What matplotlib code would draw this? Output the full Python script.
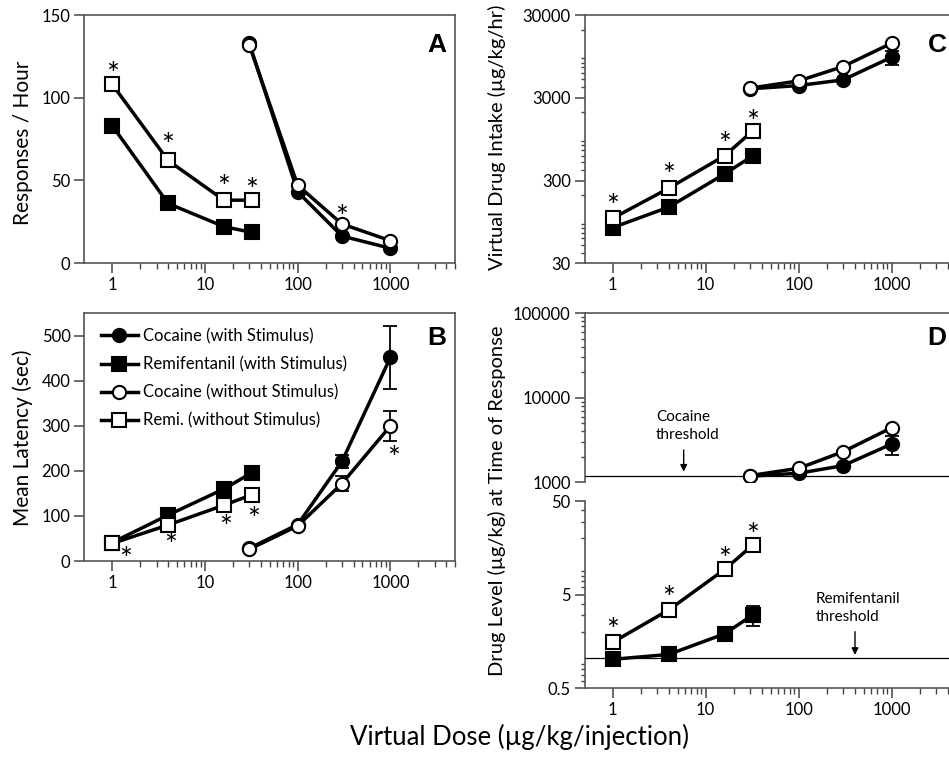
import matplotlib
matplotlib.use("Agg")
import matplotlib.pyplot as plt
from matplotlib.ticker import FixedLocator, FuncFormatter, NullFormatter

plt.rcParams["font.family"] = ["Lato", "DejaVu Sans"]

# doses (ug/kg/injection)
remi_dose = [1, 4, 16, 32]
coc_dose = [30, 100, 300, 1000]

# A: responses / hour
a_coc_stim = [133, 43, 16.3, 8.9]
a_coc_nostim = [132, 47, 23.6, 13.5]
a_remi_stim = [83, 36, 22, 18.5]
a_remi_nostim = [108, 62, 38, 38]

# B: mean latency (sec)
b_coc_stim = [28, 81, 221, 452]
b_coc_stim_err = [0, 0, 15, 70]
b_coc_nostim = [26, 78, 172, 300]
b_coc_nostim_err = [0, 0, 16, 33]
b_remi_stim = [41, 102, 160, 196]
b_remi_nostim = [39, 80, 124, 147]

# C: virtual drug intake (ug/kg/hr)
c_coc_stim = [3850, 4215, 4935, 9280]
c_coc_stim_err = [0, 0, 0, 1760]
c_coc_nostim = [3918, 4800, 7150, 13700]
c_remi_stim = [81, 143, 361, 595]
c_remi_nostim = [105, 242, 598, 1194]

# D: drug level at time of response (ug/kg)
d_coc_stim = [1180, 1280, 1575, 2840]
d_coc_stim_err = [0, 0, 0, 715]
d_coc_nostim = [1200, 1465, 2300, 4430]
d_remi_stim = [1.02, 1.15, 1.91, 3.03]
d_remi_stim_err = [0, 0, 0, 0.74]
d_remi_nostim = [1.55, 3.43, 9.3, 16.9]
coc_threshold = 1200
remi_threshold = 1.06

legend_labels = ["Cocaine (with Stimulus)", "Remifentanil (with Stimulus)",
                 "Cocaine (without Stimulus)", "Remi. (without Stimulus)"]

W, H = 949, 761
fig = plt.figure(figsize=(W / 100, H / 100), dpi=100)


def px_axes(left, top, right, bottom):
    return fig.add_axes([left / W, 1 - bottom / H, (right - left) / W, (bottom - top) / H])


ax_a = px_axes(84.4, 15, 455.2, 263)
ax_b = px_axes(84.4, 313.3, 455.2, 561)
ax_c = px_axes(584.7, 15, 956.7, 263.3)
ax_du = px_axes(584.7, 313.3, 956.7, 482.3)
ax_dl = px_axes(584.7, 501, 956.7, 688.3)

fmt = FuncFormatter(lambda v, p: f"{v:g}")
minor_x = [m * 10 ** e for e in range(4) for m in range(2, 10) if m * 10 ** e <= 5000]


def style(ax, yticks, ylim, logy=False):
    ax.set_xscale("log")
    if logy:
        ax.set_yscale("log")
    ax.set_xlim(0.5, 5000)
    ax.set_ylim(*ylim)
    ax.xaxis.set_major_locator(FixedLocator([1, 10, 100, 1000]))
    ax.xaxis.set_minor_locator(FixedLocator(minor_x))
    ax.xaxis.set_major_formatter(fmt)
    ax.xaxis.set_minor_formatter(NullFormatter())
    ax.yaxis.set_major_locator(FixedLocator(yticks))
    ax.yaxis.set_major_formatter(fmt)
    if not logy:
        ax.yaxis.set_minor_locator(FixedLocator([]))
    ax.yaxis.set_minor_formatter(NullFormatter())
    ax.tick_params(which="major", direction="out", length=7, width=1.1,
                   color="#444", labelsize=12, pad=3)
    ax.tick_params(which="minor", direction="out", length=4, width=1.0, color="#444")
    ax.tick_params(axis="y", which="minor", length=3)
    for s in ax.spines.values():
        s.set_color("#555")
        s.set_linewidth(1.2)


def series(ax, x, y, marker, filled, err=None, z=3):
    if err is not None:
        xs = [a for a, e in zip(x, err) if e > 0]
        ys = [b for b, e in zip(y, err) if e > 0]
        es = [e for e in err if e > 0]
        ax.errorbar(xs, ys, yerr=es, fmt="none", ecolor="k", elinewidth=1.3,
                    capsize=5, capthick=1.3, zorder=z - 0.5)
    line, = ax.plot(x, y, color="k", lw=2.5, marker=marker, ms=9.5,
                    mfc="k" if filled else "white", mec="k", mew=1.5, zorder=z)
    return line


def stars(ax, x, y, offsets):
    for xi, yi, (dx, dy) in zip(x, y, offsets):
        ax.annotate("*", xy=(xi, yi), xytext=(dx, dy - 6), textcoords="offset pixels",
                    ha="center", va="center", fontsize=22, zorder=6)


# panel A
style(ax_a, [0, 50, 100, 150], (0, 150))
series(ax_a, remi_dose, a_remi_stim, "s", True)
series(ax_a, coc_dose, a_coc_stim, "o", True)
series(ax_a, remi_dose, a_remi_nostim, "s", False, z=4)
series(ax_a, coc_dose, a_coc_nostim, "o", False, z=4)
stars(ax_a, remi_dose, a_remi_nostim, [(0, 15), (0, 20), (0, 18), (0, 15)])
stars(ax_a, coc_dose[2:3], a_coc_nostim[2:3], [(0, 12)])

# panel B
style(ax_b, [0, 100, 200, 300, 400, 500], (0, 550))
h1 = series(ax_b, coc_dose, b_coc_stim, "o", True, b_coc_stim_err)
h2 = series(ax_b, remi_dose, b_remi_stim, "s", True)
h3 = series(ax_b, coc_dose, b_coc_nostim, "o", False, b_coc_nostim_err, z=4)
h4 = series(ax_b, remi_dose, b_remi_nostim, "s", False, z=4)
stars(ax_b, remi_dose, b_remi_nostim, [(13, -11), (3, -15), (2, -17), (2, -19)])
stars(ax_b, coc_dose[3:], b_coc_nostim[3:], [(3, -27)])
ax_b.legend([h1, h2, h3, h4], legend_labels, loc="upper left",
            bbox_to_anchor=(0.045, 0.94), frameon=False, fontsize=12,
            handlelength=2.2, handletextpad=0.3, labelspacing=0.72,
            borderpad=0, borderaxespad=0)

# panel C
style(ax_c, [30, 300, 3000, 30000], (30, 30000), logy=True)
series(ax_c, remi_dose, c_remi_stim, "s", True)
series(ax_c, coc_dose, c_coc_stim, "o", True, c_coc_stim_err)
series(ax_c, remi_dose, c_remi_nostim, "s", False, z=4)
series(ax_c, coc_dose, c_coc_nostim, "o", False, z=4)
stars(ax_c, remi_dose, c_remi_nostim, [(0, 17), (0, 18), (0, 17), (0, 14)])

# panel D, upper (cocaine) part
style(ax_du, [1000, 10000, 100000], (1000, 100000), logy=True)
ax_du.spines["bottom"].set_visible(False)
ax_du.tick_params(axis="x", which="both", bottom=False, labelbottom=False)
ax_du.axhline(coc_threshold, color="k", lw=0.9, zorder=1)
series(ax_du, coc_dose, d_coc_stim, "o", True, d_coc_stim_err)
series(ax_du, coc_dose, d_coc_nostim, "o", False, z=4)
ax_du.text(2.92, 4640, "Cocaine\nthreshold", ha="left", va="center",
           fontsize=11, linespacing=1.3)
ax_du.annotate("", xy=(5.8, 1335), xytext=(5.8, 2413),
               arrowprops=dict(arrowstyle="-|>", color="k", lw=1,
                               mutation_scale=10, shrinkA=0, shrinkB=0))

# panel D, lower (remifentanil) part
style(ax_dl, [0.5, 5, 50], (0.5, 50), logy=True)
ax_dl.spines["top"].set_visible(False)
ax_dl.axhline(remi_threshold, color="k", lw=0.9, zorder=1)
series(ax_dl, remi_dose, d_remi_stim, "s", True, d_remi_stim_err)
series(ax_dl, remi_dose, d_remi_nostim, "s", False, z=4)
stars(ax_dl, remi_dose, d_remi_nostim, [(0, 17), (0, 17), (0, 15), (0, 15)])
ax_dl.text(153, 3.61, "Remifentanil\nthreshold", ha="left", va="center",
           fontsize=11, linespacing=1.3)
ax_dl.annotate("", xy=(403, 1.135), xytext=(403, 2.01),
               arrowprops=dict(arrowstyle="-|>", color="k", lw=1,
                               mutation_scale=10, shrinkA=0, shrinkB=0))

# panel letters
for ax, letter, xf, yf in [(ax_a, "A", 0.951, 0.879), (ax_b, "B", 0.951, 0.90),
                           (ax_c, "C", 0.947, 0.879), (ax_du, "D", 0.947, 0.854)]:
    ax.text(xf, yf, letter, transform=ax.transAxes, ha="center", va="center",
            fontsize=19, fontweight="bold", family="Liberation Sans")

# axis titles
fig.text(23 / W, 1 - 143 / H, "Responses / Hour", rotation=90, ha="center", va="center", fontsize=15)
fig.text(23 / W, 1 - 438 / H, "Mean Latency (sec)", rotation=90, ha="center", va="center", fontsize=15)
fig.text(497 / W, 1 - 137 / H, "Virtual Drug Intake (µg/kg/hr)", rotation=90,
         ha="center", va="center", fontsize=14.5)
fig.text(497 / W, 1 - 501 / H, "Drug Level (µg/kg) at Time of Response", rotation=90,
         ha="center", va="center", fontsize=14.5)
fig.text(520 / W, 1 - 737 / H, "Virtual Dose (µg/kg/injection)", ha="center", va="center",
         fontsize=18.5)

fig.savefig("out.png", dpi=100)
